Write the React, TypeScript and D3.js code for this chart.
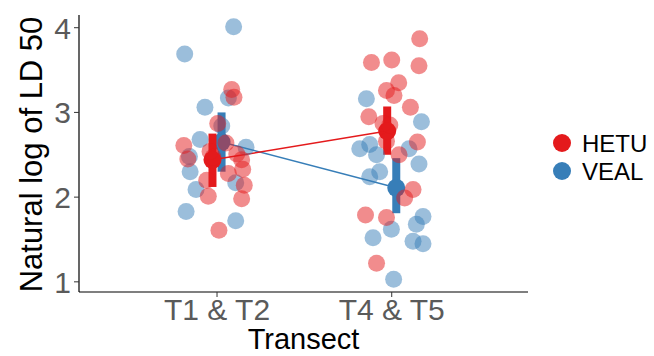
import React from 'react';
import * as d3 from 'd3';

const categories = ['T1 & T2', 'T4 & T5'];
const groups = ['HETU', 'VEAL'];
const groupColors = ['#E41A1C', '#377EB8'];
const yTicks = [1, 2, 3, 4];

// summary (mean with interval) per group, per category
const hetuMean = [2.44, 2.78];
const hetuLow = [2.12, 2.5];
const hetuHigh = [2.75, 3.07];
const vealMean = [2.65, 2.11];
const vealLow = [2.3, 1.81];
const vealHigh = [3.0, 2.46];

// raw observations: [jitter offset (category units), value]
const hetuT12: [number, number][] = [
  [0.084, 3.27], [0.097, 3.18], [0.004, 2.87], [-0.19, 2.61], [-0.167, 2.45],
  [0.051, 2.64], [-0.04, 2.54], [-0.023, 2.47], [0.113, 2.51], [0.141, 2.44],
  [0.147, 2.33], [0.065, 2.28], [-0.059, 2.2], [0.156, 2.14], [-0.05, 2.01],
  [0.141, 1.98], [0.011, 1.61],
];
const vealT12: [number, number][] = [
  [0.095, 4.01], [-0.185, 3.69], [-0.069, 3.06], [0.065, 3.17], [0.027, 2.84],
  [-0.097, 2.68], [0.166, 2.59], [-0.158, 2.48], [-0.154, 2.3], [0.107, 2.17],
  [-0.12, 2.09], [-0.177, 1.83], [0.107, 1.72],
];
const hetuT45: [number, number][] = [
  [0.16, 3.87], [-0.116, 3.59], [0.0, 3.62], [0.156, 3.55], [0.04, 3.35],
  [-0.03, 3.26], [0.013, 3.2], [0.107, 3.06], [-0.131, 2.95], [-0.05, 2.87],
  [-0.011, 2.85], [0.147, 2.65], [-0.03, 2.66], [0.042, 2.5], [0.122, 2.09],
  [0.074, 1.99], [-0.15, 1.79], [-0.03, 1.76], [-0.087, 1.22],
];
const vealT45: [number, number][] = [
  [-0.145, 3.16], [0.17, 2.89], [-0.183, 2.57], [-0.126, 2.62], [-0.087, 2.5],
  [0.099, 2.57], [0.156, 2.39], [-0.069, 2.3], [-0.126, 2.24], [0.179, 1.77],
  [0.141, 1.68], [-0.002, 1.62], [-0.107, 1.52], [0.122, 1.48], [0.179, 1.45],
  [0.011, 1.03],
];

const FONT = '"Liberation Sans", Arial, sans-serif';

export default function App() {
  const W = 654;
  const H = 356;
  const left = 79;
  const right = 528;
  const top = 15;
  const bottom = 292;

  const x = d3.scaleLinear().domain([0.21, 2.78]).range([left, right]);
  const y = d3.scaleLinear().domain([0.88, 4.15]).range([bottom, top]);

  const dodge = [-0.026, 0.026];
  const summaries = [
    { mean: hetuMean, low: hetuLow, high: hetuHigh },
    { mean: vealMean, low: vealLow, high: vealHigh },
  ];
  const points = [
    [vealT12, vealT45],
    [hetuT12, hetuT45],
  ];
  const pointGroup = [1, 0];

  return (
    <svg
      width={W}
      height={H}
      style={{ position: 'absolute', left: 0, top: 0, background: '#fff' }}
      fontFamily={FONT}
    >
      {/* summary layer: lines, intervals, means (drawn below points) */}
      {[1, 0].map((g) => {
        const s = summaries[g];
        const col = groupColors[g];
        const lineFn = d3
          .line<number>()
          .x((_, i) => x(i + 1 + dodge[g]))
          .y((d) => y(d));
        return (
          <g key={'s' + g}>
            <path d={lineFn(s.mean) || ''} fill="none" stroke={col} strokeWidth={1.5} />
            {s.mean.map((m, i) => (
              <g key={i}>
                <line
                  x1={x(i + 1 + dodge[g])}
                  x2={x(i + 1 + dodge[g])}
                  y1={y(s.low[i])}
                  y2={y(s.high[i])}
                  stroke={col}
                  strokeWidth={8}
                />
                <circle cx={x(i + 1 + dodge[g])} cy={y(m)} r={9} fill={col} />
              </g>
            ))}
          </g>
        );
      })}

      {/* jittered points */}
      {points.map((byCat, k) => {
        const g = pointGroup[k];
        return (
          <g key={'p' + k}>
            {byCat.map((pts, ci) =>
              pts.map(([j, v], pi) => (
                <circle
                  key={ci + '-' + pi}
                  cx={x(ci + 1 + j)}
                  cy={y(v)}
                  r={8.5}
                  fill={groupColors[g]}
                  fillOpacity={0.5}
                />
              ))
            )}
          </g>
        );
      })}

      {/* axes */}
      <line x1={left} x2={left} y1={top} y2={bottom} stroke="#000" strokeWidth={1.2} />
      <line x1={left} x2={right} y1={bottom} y2={bottom} stroke="#000" strokeWidth={1.2} />
      {yTicks.map((t) => (
        <g key={'yt' + t}>
          <line x1={left - 5} x2={left} y1={y(t)} y2={y(t)} stroke="#333" strokeWidth={1} />
          <text
            x={left - 8}
            y={y(t)}
            dy="0.36em"
            textAnchor="end"
            fontSize={30}
            fill="#5a5a5a"
          >
            {t}
          </text>
        </g>
      ))}
      {categories.map((c, i) => (
        <g key={'xt' + i}>
          <line x1={x(i + 1)} x2={x(i + 1)} y1={bottom} y2={bottom + 5} stroke="#333" strokeWidth={1} />
          <text x={x(i + 1)} y={320} textAnchor="middle" fontSize={30} fill="#5a5a5a">
            {c}
          </text>
        </g>
      ))}
      <text x={(left + right) / 2} y={349} textAnchor="middle" fontSize={29} fill="#000">
        Transect
      </text>
      <text
        transform={`translate(42,${(top + bottom) / 2 + 1}) rotate(-90)`}
        textAnchor="middle"
        fontSize={31}
        fill="#000"
      >
        Natural log of LD 50
      </text>

      {/* legend */}
      {groups.map((gname, i) => (
        <g key={'lg' + i}>
          <circle cx={562} cy={143 + i * 28} r={9} fill={groupColors[i]} />
          <text x={582} y={152 + i * 28} fontSize={24} fill="#000">
            {gname}
          </text>
        </g>
      ))}
    </svg>
  );
}
